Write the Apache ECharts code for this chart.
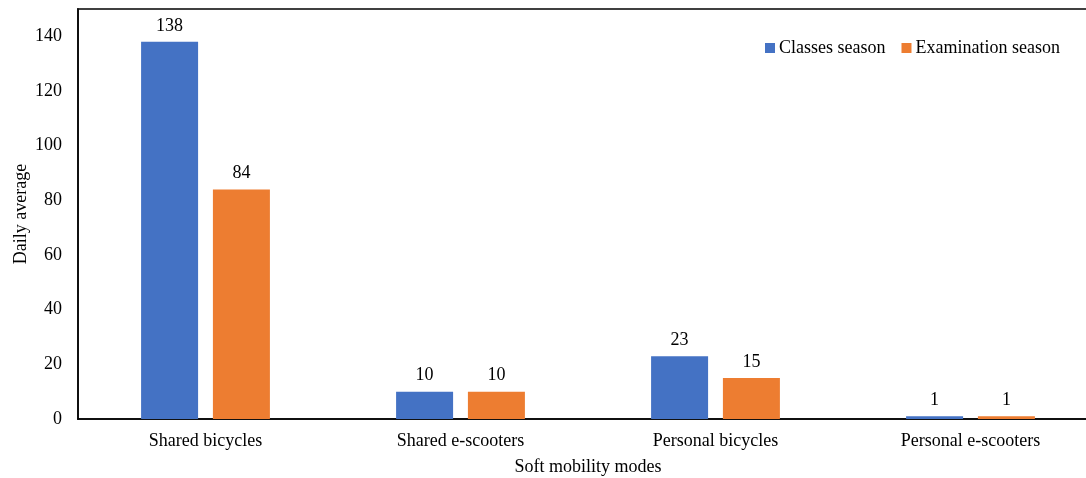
<!DOCTYPE html>
<html>
<head>
<meta charset="utf-8">
<script src="https://cdn.jsdelivr.net/npm/echarts@6/dist/echarts.min.js"></script>
<style>
  html, body { margin: 0; padding: 0; background: #fff; }
  #chart { width: 1086px; height: 478px; }
</style>
</head>
<body>
<div id="chart"></div>
<script>
// Daily average use of soft mobility modes by academic period
const categories = ['Shared bicycles', 'Shared e-scooters', 'Personal bicycles', 'Personal e-scooters'];
const classesSeason = [138, 10, 23, 1];
const examinationSeason = [84, 10, 15, 1];
const seriesNames = ['Classes season', 'Examination season'];

const FONT = '"Liberation Serif", "Times New Roman", serif';
const FS = 18;
const chart = echarts.init(document.getElementById('chart'));

const labelStyle = {
  show: true,
  position: 'top',
  distance: 7,
  color: '#000',
  fontFamily: FONT,
  fontSize: FS
};

chart.setOption({
  animation: false,
  textStyle: { fontFamily: FONT },
  grid: {
    left: 78,
    top: 9,
    width: 1020,
    height: 410,
    outerBoundsMode: 'none',
    containLabel: false,
    show: true,
    borderColor: '#404040',
    borderWidth: 2,
    backgroundColor: 'transparent'
  },
  legend: {
    data: seriesNames,
    top: 34,
    left: 760,
    itemWidth: 10,
    itemHeight: 10,
    itemGap: 16,
    icon: 'rect',
    textStyle: { fontFamily: FONT, fontSize: FS, color: '#000', padding: [2, 0, 0, -1] }
  },
  xAxis: {
    type: 'category',
    data: categories,
    name: 'Soft mobility modes',
    nameLocation: 'middle',
    nameGap: 39,
    nameTextStyle: { fontFamily: FONT, fontSize: FS, color: '#000' },
    axisLine: { lineStyle: { color: '#000', width: 1.5 } },
    axisTick: { show: false },
    axisLabel: { fontFamily: FONT, fontSize: FS, color: '#000', margin: 13 }
  },
  yAxis: {
    type: 'value',
    min: 0,
    max: 150,
    interval: 20,
    name: 'Daily average',
    nameLocation: 'middle',
    nameGap: 48,
    nameMoveOverlap: false,
    nameTextStyle: { fontFamily: FONT, fontSize: FS, color: '#000' },
    axisLine: { show: true, lineStyle: { color: '#000', width: 1.5 } },
    axisTick: { show: false },
    splitLine: { show: false },
    axisLabel: { fontFamily: FONT, fontSize: FS, color: '#000', margin: 16, showMaxLabel: false }
  },
  series: [
    {
      name: seriesNames[0],
      type: 'bar',
      data: classesSeason,
      barWidth: 57,
      barGap: '26%',
      itemStyle: { color: '#4472C4' },
      label: labelStyle
    },
    {
      name: seriesNames[1],
      type: 'bar',
      data: examinationSeason,
      barWidth: 57,
      itemStyle: { color: '#ED7D31' },
      label: labelStyle
    }
  ]
});
</script>
</body>
</html>
